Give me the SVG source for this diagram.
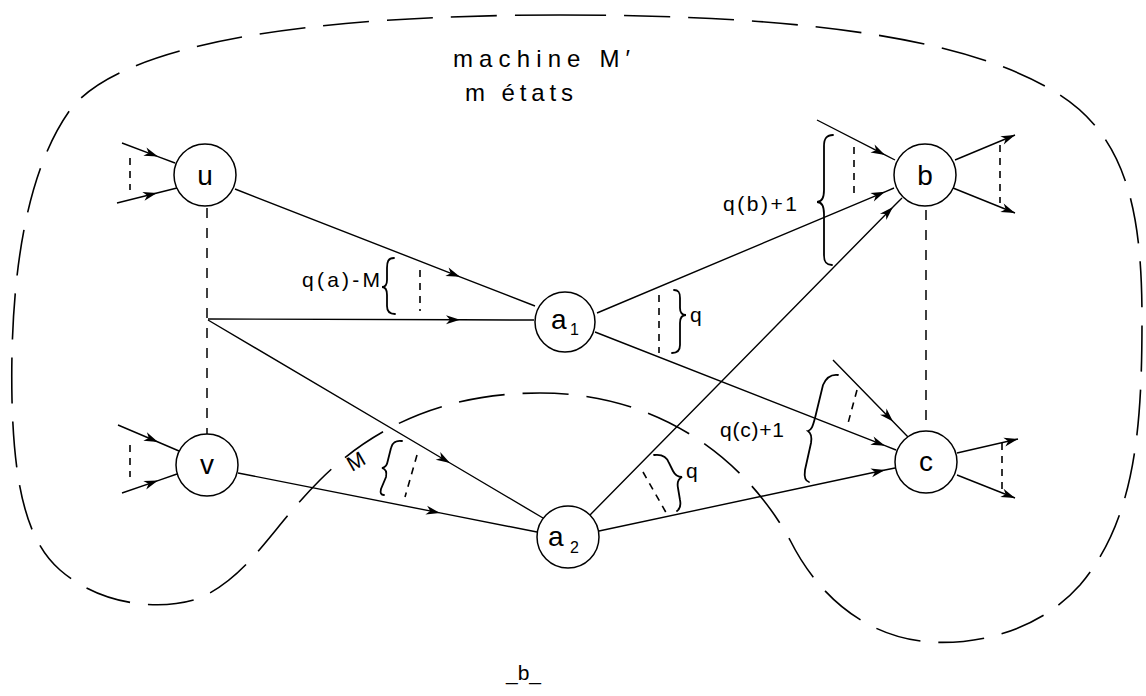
<svg xmlns="http://www.w3.org/2000/svg" width="1146" height="696" viewBox="0 0 1146 696">
<style>
.ln{stroke:#000;stroke-width:1.4;fill:none}
.am{marker-mid:url(#ah)}
.ae{marker-end:url(#ah)}
.dsh{stroke:#000;stroke-width:1.6;fill:none;stroke-dasharray:7 6}
.dl{stroke:#000;stroke-width:1.5;fill:none;stroke-dasharray:10 10}
.br{stroke:#000;stroke-width:1.8;fill:none;stroke-linecap:round}
.loop{stroke:#000;stroke-width:1.6;fill:none;stroke-dasharray:46 18}
.nd circle{fill:#fff;stroke:#000;stroke-width:1.5}
.t{font-family:"Liberation Sans",Arial,sans-serif;fill:#000}
.nl{font-size:28px;text-anchor:middle}
.sb{font-size:16px}
.lb{font-size:21px}
.hd{font-size:24px}
</style>
<defs>
<marker id="ah" viewBox="-15 -6 17 12" markerWidth="17" markerHeight="12" refX="0" refY="0" orient="auto" markerUnits="userSpaceOnUse">
<path d="M0,0 L-14,-4.5 L-10,0 L-14,4.5 Z" fill="#000"/>
</marker>
</defs>

<path class="loop" d="M560,15 C760,15 960,30 1060,95 C1130,140 1142,220 1142,320 C1142,430 1135,520 1080,585 C1040,630 980,645 930,642 C870,638 820,600 790,540 C740,450 650,393 540,393 C440,393 370,430 320,480 C270,530 250,575 200,598 C160,612 100,605 60,570 C25,540 14,480 12,400 C10,300 20,180 70,110 C120,45 300,15 560,15 Z"/>

<g id="connectors">
<polyline class="ln am" points="122,143 158,156.6 175,163"/>
<polyline class="ln am" points="117,203 157,193 177,188"/>
<line class="dsh" x1="130" y1="158" x2="130" y2="190"/>
<polyline class="ln am" points="118,425 158,442 179,451"/>
<polyline class="ln am" points="122,493 158,480.6 177,474"/>
<line class="dsh" x1="130" y1="445" x2="130" y2="477"/>
<line class="dl" x1="207" y1="208" x2="207" y2="434"/>
<polyline class="ln am" points="235,189 460,276.8 535,306"/>
<polyline class="ln am" points="208,319 460,319.8 534,320"/>
<polyline class="ln am" points="208,320 450,463 543,518"/>
<polyline class="ln am" points="238,473 440,512.9 537,532"/>
<polyline class="ln am" points="597,313 885,191.8 894,188"/>
<polyline class="ln am" points="595,332 885,445.7 896,450"/>
<polyline class="ln am" points="590,515 893,207 902,198"/>
<polyline class="ln am" points="599,531 885,470 895,468"/>
<polyline class="ln am" points="817,120 885,154.9 895,160"/>
<polyline class="ln am" points="833,360 893,421.6 908,437"/>
<line class="ln ae" x1="955" y1="160" x2="1015" y2="135"/>
<line class="ln ae" x1="953" y1="188" x2="1015" y2="213"/>
<line class="ln ae" x1="957" y1="453" x2="1018" y2="439"/>
<line class="ln ae" x1="957" y1="475" x2="1015" y2="498"/>
<line class="dl" x1="926" y1="210" x2="926" y2="428"/>
<line class="dsh" x1="854" y1="147" x2="854" y2="199"/>
<line class="dsh" x1="1000" y1="145" x2="1000" y2="203"/>
<line class="dsh" x1="857" y1="390" x2="847" y2="427"/>
<line class="dsh" x1="1002" y1="443" x2="1002" y2="495"/>
<line class="dsh" x1="420" y1="270" x2="420" y2="311"/>
<line class="dsh" x1="659" y1="295" x2="659" y2="353"/>
<line class="dsh" x1="417" y1="455" x2="405" y2="497"/>
<line class="dsh" x1="643" y1="472" x2="668" y2="516"/>
</g>

<g id="braces">
<path class="br" d="M394,258 C388,258 387,262 387,268 L387,280 C387,285 385,287 382,287 C385,287 387,290 387,295 L387,306 C387,311 389,314 395,314"/>
<path class="br" d="M674,290 C679,290 680,293 680,298 L680,308 C680,313 682,315 686,315 C682,315 680,318 680,323 L680,345 C680,350 678,353 672,353"/>
<path class="br" d="M833,135 C826,135 824,139 824,146 L824,190 C824,198 822,202 817,202 C822,202 824,206 824,214 L824,255 C824,262 826,265 832,265"/>
<path class="br" d="M838,375 C830,374 826,378 823,385 L815,418 C813,425 812,430 808,431 C811,433 812,437 811,443 L805,470 C804,477 805,481 809,482"/>
<path class="br" d="M402,441 C396,440 392,443 391,448 L388,460 C387,465 386,467 382,468 C386,469 387,472 386,477 L381,489 C380,493 381,495 384,495"/>
<path class="br" d="M654,455 C662,454 667,457 669,463 L673,471 C675,475 677,477 682,477 C678,479 677,483 678,488 L680,500 C681,505 680,509 677,511"/>
</g>

<g id="labels" class="t">
<text class="hd" x="453" y="67" textLength="177" lengthAdjust="spacing">machine M′</text>
<text class="hd" x="465" y="101" textLength="108" lengthAdjust="spacing">m états</text>
<text class="lb" x="302" y="287" textLength="78" lengthAdjust="spacing">q(a)-M</text>
<text class="lb" x="723" y="211" textLength="74" lengthAdjust="spacing">q(b)+1</text>
<text class="lb" x="720" y="437" textLength="64" lengthAdjust="spacing">q(c)+1</text>
<text class="lb" x="690" y="322">q</text>
<text class="lb" x="686" y="478">q</text>
<text class="lb" x="0" y="0" transform="translate(352,472) rotate(-30)">M</text>
<text class="lb" x="506" y="680">_b_</text>
</g>

<g id="node-u" class="nd"><circle cx="205" cy="175" r="31"/><text class="t nl" x="205" y="185">u</text></g>
<g id="node-v" class="nd"><circle cx="207" cy="465" r="31"/><text class="t nl" x="207" y="474">v</text></g>
<g id="node-a1" class="nd"><circle cx="565" cy="322" r="30"/><text class="t" x="551" y="329" font-size="28">a</text><text class="t sb" x="570" y="335">1</text></g>
<g id="node-a2" class="nd"><circle cx="568" cy="537" r="31"/><text class="t" x="548" y="546" font-size="28">a</text><text class="t sb" x="570" y="553">2</text></g>
<g id="node-b" class="nd"><circle cx="925" cy="175" r="31"/><text class="t nl" x="925" y="185">b</text></g>
<g id="node-c" class="nd"><circle cx="926" cy="462" r="31"/><text class="t nl" x="926" y="471">c</text></g>
</svg>
